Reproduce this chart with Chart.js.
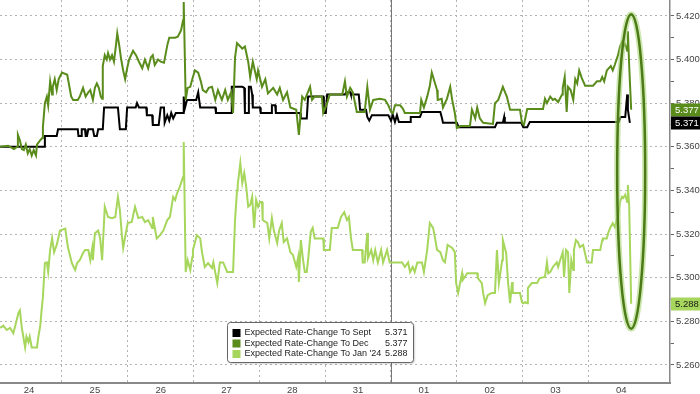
<!DOCTYPE html>
<html>
<head>
<meta charset="utf-8">
<script src="https://cdn.jsdelivr.net/npm/chart.js@4.4.0/dist/chart.umd.min.js"></script>
<style>
  body { margin: 0; background: #fff; }
  #grafico { display: block; }
</style>
</head>
<body>
<canvas id="grafico" width="700" height="394"></canvas>
<script>
const dayLabels = ['24', '25', '26', '27', '28', '31', '01', '02', '03', '04'];
const yTickLabels = ['5.260', '5.280', '5.300', '5.320', '5.340', '5.360', '5.380', '5.400', '5.420'];
const seriesNames = ['Expected Rate-Change To Sept', 'Expected Rate-Change To Dec', "Expected Rate-Change To Jan '24"];

// [session position in days from the 24th, rate]
const sept = [
    [0.06,5.360],[0.73,5.360],[0.74,5.365],[0.92,5.365],[0.94,5.368],[1.24,5.368],[1.25,5.365],[1.29,5.365],
    [1.30,5.368],[1.35,5.368],[1.36,5.365],[1.38,5.365],[1.40,5.368],[1.47,5.368],[1.49,5.365],[1.53,5.365],
    [1.55,5.368],[1.62,5.368],[1.64,5.378],[1.85,5.378],[1.88,5.368],[1.97,5.368],[1.99,5.378],[2.12,5.378],
    [2.14,5.380],[2.17,5.378],[2.28,5.378],[2.29,5.3745],[2.37,5.3745],[2.38,5.370],[2.47,5.370],[2.50,5.378],
    [2.55,5.378],[2.56,5.371],[2.60,5.3745],[2.63,5.372],[2.66,5.3755],[2.69,5.373],[2.73,5.3755],[2.84,5.3755],
    [2.85,5.383],[2.87,5.378],[2.90,5.3815],[3.04,5.3815],[3.07,5.385],[3.10,5.378],[3.33,5.378],[3.34,5.3755],
    [3.57,5.3755],[3.58,5.3875],[3.74,5.3875],[3.77,5.387],[3.78,5.3755],[3.83,5.3755],[3.84,5.3875],[3.87,5.3875],
    [3.89,5.384],[3.90,5.378],[4.01,5.378],[4.02,5.3755],[4.18,5.3755],[4.19,5.379],[4.24,5.379],[4.25,5.3755],
    [4.62,5.3755],[4.63,5.373],[4.72,5.373],[4.74,5.383],[4.97,5.383],[4.98,5.3755],[5.01,5.3755],[5.03,5.384],
    [5.30,5.384],[5.32,5.385],[5.38,5.385],[5.39,5.384],[5.51,5.384],[5.53,5.377],[5.62,5.377],[5.64,5.3737],
    [5.67,5.372],[5.71,5.3745],[5.96,5.3745],[6.00,5.372],[6.03,5.3745],[6.06,5.3714],[6.09,5.3745],[6.12,5.3714],
    [6.29,5.3714],[6.30,5.3737],[6.44,5.3737],[6.47,5.376],[6.75,5.376],[6.77,5.3737],[6.79,5.371],[7.00,5.371],
    [7.03,5.369],[7.58,5.369],[7.61,5.371],[7.70,5.371],[7.72,5.3737],[7.73,5.371],[7.98,5.371],[8.01,5.369],
    [8.07,5.369],[8.11,5.3714],[9.46,5.3714],[9.49,5.3737],[9.56,5.3737],[9.59,5.384],[9.60,5.377],[9.63,5.371]
];

const dec = [
    [0.06,5.360],[0.18,5.3605],[0.27,5.359],[0.32,5.360],[0.33,5.3655],[0.36,5.363],[0.39,5.359],[0.42,5.3585],
    [0.45,5.361],[0.48,5.357],[0.51,5.359],[0.54,5.356],[0.57,5.3585],[0.605,5.356],[0.62,5.361],[0.67,5.363],
    [0.70,5.364],[0.71,5.369],[0.74,5.380],[0.77,5.383],[0.79,5.379],[0.82,5.390],[0.85,5.384],[0.86,5.3875],
    [0.89,5.391],[0.92,5.386],[0.95,5.391],[1.00,5.394],[1.08,5.393],[1.11,5.388],[1.14,5.383],[1.17,5.3815],
    [1.24,5.3815],[1.27,5.383],[1.32,5.387],[1.36,5.383],[1.40,5.385],[1.43,5.386],[1.47,5.3815],[1.50,5.387],
    [1.53,5.389],[1.56,5.387],[1.59,5.383],[1.61,5.382],[1.62,5.397],[1.65,5.402],[1.68,5.400],[1.70,5.403],
    [1.73,5.400],[1.76,5.402],[1.79,5.399],[1.82,5.4065],[1.84,5.412],[1.87,5.4065],[1.90,5.400],[1.93,5.395],
    [1.96,5.391],[1.99,5.396],[2.02,5.400],[2.08,5.404],[2.125,5.402],[2.17,5.399],[2.22,5.396],[2.26,5.400],
    [2.31,5.396],[2.35,5.401],[2.38,5.402],[2.41,5.3975],[2.46,5.400],[2.50,5.399],[2.55,5.3985],[2.60,5.4065],
    [2.63,5.410],[2.72,5.410],[2.76,5.4105],[2.81,5.4135],[2.84,5.418],[2.85,5.4264],[2.88,5.3815],[2.91,5.387],
    [2.95,5.3875],[2.98,5.391],[3.02,5.395],[3.07,5.394],[3.11,5.390],[3.14,5.386],[3.19,5.385],[3.23,5.387],
    [3.28,5.3875],[3.33,5.3815],[3.37,5.386],[3.43,5.3815],[3.48,5.386],[3.52,5.3815],[3.57,5.385],[3.60,5.3755],
    [3.63,5.401],[3.66,5.4075],[3.71,5.406],[3.74,5.405],[3.78,5.406],[3.83,5.399],[3.86,5.392],[3.90,5.399],
    [3.96,5.391],[3.98,5.395],[4.04,5.3875],[4.09,5.391],[4.13,5.3845],[4.21,5.387],[4.27,5.384],[4.31,5.387],
    [4.36,5.3815],[4.42,5.385],[4.47,5.378],[4.56,5.377],[4.60,5.3655],[4.65,5.383],[4.69,5.3815],[4.77,5.3875],
    [4.80,5.3815],[4.84,5.383],[4.95,5.383],[4.97,5.3755],[5.03,5.380],[5.07,5.384],[5.26,5.384],[5.30,5.390],
    [5.33,5.383],[5.38,5.387],[5.42,5.385],[5.48,5.376],[5.60,5.376],[5.64,5.3875],[5.68,5.377],[5.73,5.3815],
    [5.83,5.382],[5.91,5.3815],[5.96,5.379],[6.00,5.376],[6.03,5.3755],[6.06,5.379],[6.14,5.379],[6.18,5.3775],
    [6.21,5.3755],[6.44,5.3755],[6.46,5.3815],[6.50,5.378],[6.55,5.383],[6.59,5.388],[6.62,5.394],[6.67,5.389],
    [6.70,5.386],[6.71,5.3815],[6.77,5.382],[6.79,5.378],[6.85,5.382],[6.90,5.3875],[6.93,5.3815],[6.97,5.3755],
    [7.00,5.3686],[7.05,5.3695],[7.20,5.3695],[7.23,5.377],[7.28,5.373],[7.31,5.378],[7.35,5.373],[7.40,5.371],
    [7.55,5.3705],[7.58,5.380],[7.63,5.3815],[7.70,5.3875],[7.76,5.383],[7.81,5.377],[7.96,5.377],[7.99,5.371],
    [8.02,5.370],[8.07,5.3773],[8.31,5.3773],[8.34,5.382],[8.37,5.380],[8.42,5.383],[8.46,5.3815],[8.49,5.382],
    [8.54,5.3805],[8.60,5.384],[8.61,5.387],[8.64,5.392],[8.67,5.376],[8.69,5.3875],[8.73,5.386],[8.77,5.3815],
    [8.80,5.391],[8.83,5.389],[8.86,5.395],[8.90,5.3915],[8.95,5.388],[9.07,5.388],[9.13,5.390],[9.18,5.390],
    [9.21,5.392],[9.24,5.390],[9.28,5.395],[9.34,5.397],[9.37,5.395],[9.40,5.3975],[9.45,5.402],[9.48,5.406],
    [9.51,5.408],[9.53,5.406],[9.56,5.407],[9.59,5.404],[9.60,5.413],[9.62,5.397],[9.65,5.377]
];

const jan = [
    [0.06,5.277],[0.11,5.278],[0.16,5.276],[0.21,5.277],[0.26,5.2745],[0.29,5.278],[0.34,5.284],[0.36,5.285],
    [0.39,5.277],[0.42,5.2715],[0.44,5.268],[0.46,5.273],[0.49,5.2705],[0.51,5.273],[0.54,5.268],[0.62,5.268],
    [0.64,5.2727],[0.67,5.278],[0.69,5.285],[0.71,5.291],[0.74,5.3067],[0.77,5.307],[0.79,5.3026],[0.82,5.3127],
    [0.85,5.318],[0.88,5.3117],[0.92,5.315],[0.97,5.3216],[1.05,5.3225],[1.09,5.314],[1.15,5.3067],[1.20,5.3035],
    [1.23,5.3067],[1.27,5.308],[1.32,5.3113],[1.35,5.3127],[1.40,5.3127],[1.43,5.308],[1.46,5.3136],[1.47,5.308],
    [1.50,5.3204],[1.55,5.3216],[1.58,5.318],[1.61,5.308],[1.65,5.3325],[1.70,5.3278],[1.76,5.3273],[1.81,5.3278],
    [1.85,5.337],[1.88,5.331],[1.91,5.3195],[1.93,5.3136],[1.97,5.3204],[2.00,5.325],[2.06,5.3255],[2.11,5.3325],
    [2.16,5.3273],[2.22,5.3278],[2.26,5.3255],[2.31,5.3264],[2.37,5.3228],[2.38,5.3278],[2.44,5.318],[2.49,5.3195],
    [2.54,5.3216],[2.60,5.3264],[2.64,5.3278],[2.69,5.337],[2.72,5.3356],[2.75,5.3388],[2.79,5.3416],[2.84,5.3461],
    [2.85,5.3622],[2.88,5.3026],[2.91,5.308],[2.95,5.3035],[2.98,5.3094],[2.99,5.3127],[3.05,5.3195],[3.10,5.318],
    [3.13,5.3113],[3.17,5.3049],[3.22,5.3067],[3.28,5.3044],[3.30,5.307],[3.36,5.2975],[3.40,5.307],[3.45,5.307],
    [3.51,5.3026],[3.60,5.3026],[3.63,5.3264],[3.66,5.340],[3.67,5.3425],[3.71,5.3525],[3.74,5.3434],[3.77,5.348],
    [3.80,5.3416],[3.83,5.3325],[3.86,5.3333],[3.89,5.337],[3.92,5.3228],[3.95,5.3356],[3.98,5.3325],[4.01,5.3347],
    [4.04,5.3347],[4.05,5.3264],[4.12,5.325],[4.15,5.318],[4.19,5.3273],[4.22,5.3216],[4.27,5.3159],[4.30,5.3216],
    [4.34,5.325],[4.37,5.3163],[4.42,5.318],[4.47,5.3117],[4.51,5.3104],[4.56,5.3049],[4.59,5.3094],[4.60,5.298],
    [4.63,5.3172],[4.66,5.309],[4.69,5.3026],[4.72,5.3026],[4.74,5.308],[4.78,5.321],[4.81,5.3228],[4.84,5.318],
    [4.97,5.318],[4.98,5.3127],[5.07,5.3127],[5.10,5.3228],[5.19,5.3228],[5.24,5.3278],[5.29,5.330],[5.33,5.3264],
    [5.36,5.3278],[5.39,5.3186],[5.42,5.3127],[5.56,5.3127],[5.57,5.307],[5.60,5.307],[5.64,5.3205],[5.65,5.309],
    [5.70,5.3127],[5.73,5.308],[5.76,5.3127],[5.80,5.307],[5.85,5.3127],[5.88,5.307],[5.94,5.3127],[5.98,5.307],
    [6.17,5.307],[6.21,5.3049],[6.26,5.307],[6.29,5.3026],[6.33,5.3049],[6.36,5.3026],[6.40,5.307],[6.47,5.307],
    [6.50,5.3026],[6.55,5.3127],[6.59,5.325],[6.64,5.3228],[6.67,5.318],[6.70,5.3127],[6.75,5.3117],[6.79,5.308],
    [6.82,5.307],[6.86,5.315],[6.93,5.3136],[6.97,5.3117],[6.99,5.2975],[7.02,5.293],[7.08,5.302],[7.09,5.2989],
    [7.16,5.302],[7.31,5.302],[7.32,5.2998],[7.38,5.2975],[7.40,5.293],[7.43,5.2883],[7.47,5.292],[7.53,5.293],
    [7.58,5.293],[7.61,5.3127],[7.64,5.2975],[7.69,5.308],[7.70,5.3172],[7.75,5.3113],[7.78,5.2975],[7.81,5.2883],
    [7.84,5.298],[7.85,5.293],[7.96,5.293],[7.99,5.2888],[8.01,5.2883],[8.04,5.2888],[8.07,5.2883],[8.08,5.2952],
    [8.14,5.2975],[8.22,5.2975],[8.26,5.2998],[8.34,5.3003],[8.37,5.307],[8.39,5.302],[8.42,5.3026],[8.46,5.3049],
    [8.52,5.307],[8.54,5.3049],[8.57,5.308],[8.61,5.3117],[8.63,5.3003],[8.66,5.3127],[8.69,5.3117],[8.71,5.293],
    [8.74,5.308],[8.77,5.3035],[8.78,5.3127],[8.81,5.3172],[8.84,5.3163],[8.87,5.314],[8.92,5.315],[8.98,5.307],
    [9.05,5.307],[9.07,5.3127],[9.18,5.3127],[9.21,5.3172],[9.22,5.318],[9.28,5.318],[9.30,5.3204],[9.33,5.3228],
    [9.37,5.325],[9.40,5.3232],[9.43,5.3264],[9.45,5.3273],[9.48,5.3347],[9.51,5.337],[9.53,5.3365],[9.56,5.338],
    [9.59,5.3347],[9.60,5.3425],[9.62,5.3325],[9.65,5.288]
];

const fontFam = '"Liberation Sans", Arial, sans-serif';
const colSept = '#000000';
const colDec = '#5a8c1c';
const colJan = '#a6d65c';

Chart.defaults.font.family = fontFam;
Chart.defaults.font.size = 9.5;
Chart.defaults.color = '#444';

function pts(arr) {
    return arr.map(function (p) { return { x: p[0], y: p[1] }; });
}
function last(arr) {
    return arr[arr.length - 1][1];
}

const yMajor = yTickLabels.map(parseFloat);
const monthBreak = dayLabels.indexOf('01');

const extras = {
    id: 'extras',
    beforeDatasetsDraw(chart) {
        const { ctx, chartArea: a, scales: { x } } = chart;
        const px = Math.round(x.getPixelForValue(monthBreak)) + 0.5;
        ctx.save();
        ctx.strokeStyle = '#777';
        ctx.lineWidth = 1;
        ctx.beginPath();
        ctx.moveTo(px, a.top);
        ctx.lineTo(px, a.bottom);
        ctx.stroke();
        ctx.restore();
    },
    afterDatasetsDraw(chart) {
        const { ctx, scales: { x, y } } = chart;

        // ring round the last session's move
        const tail = [].concat(sept, dec, jan).filter(function (p) { return p[0] >= 9.4; }).map(function (p) { return p[1]; });
        const top = y.getPixelForValue(Math.max.apply(null, tail)) - 17;
        const bottom = y.getPixelForValue(Math.min.apply(null, tail)) + 25;
        const cx = x.getPixelForValue(jan[jan.length - 1][0]);
        const cy = (top + bottom) / 2;
        ctx.save();
        ctx.beginPath();
        ctx.ellipse(cx, cy, 14, (bottom - top) / 2, 0, 0, Math.PI * 2);
        ctx.strokeStyle = 'rgba(170, 215, 120, 0.6)';
        ctx.lineWidth = 6;
        ctx.stroke();
        ctx.strokeStyle = '#4b7a16';
        ctx.lineWidth = 2.5;
        ctx.stroke();
        ctx.restore();

        // legend box
        const bx = 227.5, by = 322.5, bw = 186, bh = 40;
        ctx.save();
        ctx.shadowColor = 'rgba(0,0,0,0.25)';
        ctx.shadowBlur = 2;
        ctx.shadowOffsetX = 1;
        ctx.shadowOffsetY = 1;
        ctx.fillStyle = '#fff';
        ctx.beginPath();
        ctx.roundRect(bx, by, bw, bh, 3);
        ctx.fill();
        ctx.shadowColor = 'transparent';
        ctx.strokeStyle = '#666';
        ctx.lineWidth = 1;
        ctx.stroke();
        const rows = [[seriesNames[0], colSept, sept], [seriesNames[1], colDec, dec], [seriesNames[2], colJan, jan]];
        ctx.font = '9px ' + fontFam;
        ctx.textBaseline = 'middle';
        rows.forEach(function (r, i) {
            const ry = by + 10.5 + i * 10.5;
            ctx.fillStyle = r[1];
            ctx.fillRect(bx + 5, ry - 4, 8, 8);
            ctx.fillStyle = '#222';
            ctx.textAlign = 'left';
            ctx.fillText(r[0], bx + 17, ry);
            ctx.textAlign = 'right';
            ctx.fillText(last(r[2]).toFixed(3), bx + bw - 6, ry);
        });
        ctx.restore();
    },
    afterDraw(chart) {
        const { ctx, chartArea: a, scales: { y } } = chart;
        const tags = [[jan, colJan, '#1a1a1a'], [dec, colDec, '#fff'], [sept, colSept, '#fff']];
        ctx.save();
        ctx.font = '9.5px ' + fontFam;
        ctx.textBaseline = 'middle';
        ctx.textAlign = 'left';
        tags.forEach(function (t) {
            const v = last(t[0]);
            const py = y.getPixelForValue(v);
            ctx.fillStyle = t[1];
            ctx.fillRect(a.right + 1, Math.round(py) - 6.5, chart.width - a.right - 1, 13);
            ctx.fillStyle = t[2];
            ctx.fillText(v.toFixed(3), a.right + 5, py + 0.5);
        });
        ctx.restore();
    }
};

new Chart('grafico', {
    type: 'line',
    data: {
        datasets: [
            { label: seriesNames[2], data: pts(jan), borderColor: colJan, borderWidth: 2 },
            { label: seriesNames[1], data: pts(dec), borderColor: colDec, borderWidth: 2 },
            { label: seriesNames[0], data: pts(sept), borderColor: colSept, borderWidth: 2 }
        ]
    },
    options: {
        responsive: false,
        animation: false,
        devicePixelRatio: 1,
        layout: { padding: 0 },
        elements: { point: { radius: 0 }, line: { tension: 0 } },
        plugins: { legend: { display: false }, tooltip: { enabled: false } },
        scales: {
            x: {
                type: 'linear',
                min: 0.058,
                max: 10.24,
                afterBuildTicks: function (s) {
                    const t = [];
                    for (let i = 0; i < dayLabels.length; i++) {
                        if (i > 0) t.push({ value: i });
                        t.push({ value: i + 0.5 });
                    }
                    s.ticks = t;
                },
                afterFit: function (s) {
                    s.height = 11;
                    s.paddingLeft = 0; s.paddingRight = 0; s.paddingTop = 0; s.paddingBottom = 0;
                },
                ticks: {
                    autoSkip: false,
                    maxRotation: 0,
                    padding: 2,
                    color: '#444',
                    font: { size: 9.5 },
                    callback: function (v) {
                        return Number.isInteger(v) ? '' : dayLabels[Math.floor(v)];
                    }
                },
                grid: {
                    drawTicks: false,
                    color: function (c) {
                        return c.tick && Number.isInteger(c.tick.value) ? '#b3b3b3' : 'rgba(0,0,0,0)';
                    }
                },
                border: { display: true, color: '#888', width: 2, dash: [2, 3] }
            },
            y: {
                position: 'right',
                min: 5.2517,
                max: 5.4273,
                afterBuildTicks: function (s) {
                    const t = [];
                    yMajor.forEach(function (m, i) {
                        t.push({ value: m });
                        if (i < yMajor.length - 1) t.push({ value: Math.round((m + 0.01) * 1000) / 1000 });
                    });
                    if (yMajor[0] - 0.01 > s.min) t.unshift({ value: Math.round((yMajor[0] - 0.01) * 1000) / 1000 });
                    s.ticks = t;
                },
                afterFit: function (s) {
                    s.width = 30;
                    s.paddingLeft = 0; s.paddingRight = 0; s.paddingTop = 0; s.paddingBottom = 0;
                },
                ticks: {
                    padding: 2,
                    color: '#444',
                    font: { size: 9.5 },
                    callback: function (v) {
                        const i = yMajor.findIndex(function (m) { return Math.abs(m - v) < 1e-6; });
                        return i >= 0 ? yTickLabels[i] : '';
                    }
                },
                grid: {
                    tickLength: 4,
                    tickColor: '#666',
                    color: function (c) {
                        if (!c.tick) return 'rgba(0,0,0,0)';
                        return yMajor.some(function (m) { return Math.abs(m - c.tick.value) < 1e-6; }) ? '#b3b3b3' : 'rgba(0,0,0,0)';
                    }
                },
                border: { display: true, color: '#888', width: 1.5, dash: [2, 3] }
            }
        }
    },
    plugins: [extras]
});
</script>
</body>
</html>
